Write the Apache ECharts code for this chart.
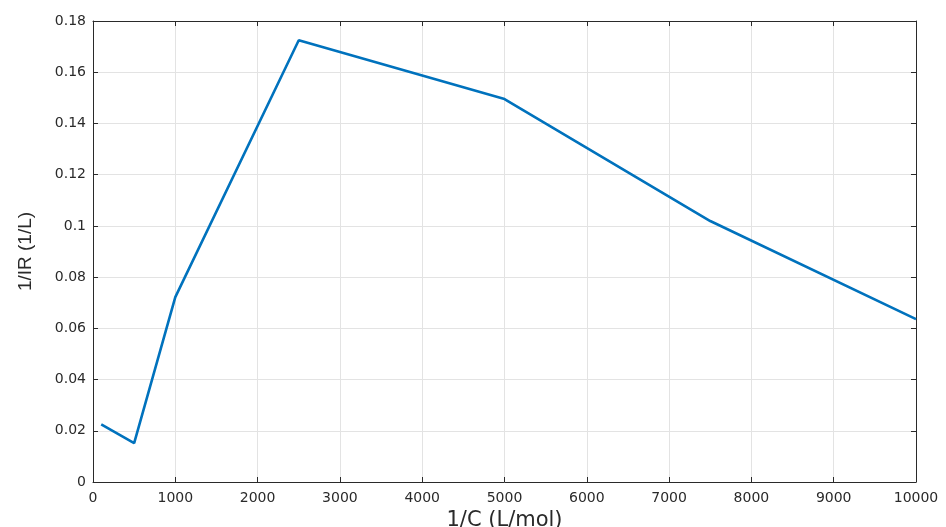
<!DOCTYPE html>
<html>
<head>
<meta charset="utf-8">
<script src="https://cdn.jsdelivr.net/npm/echarts@6/dist/echarts.min.js"></script>
<style>html,body{margin:0;padding:0;background:#fff;}#c{width:946px;height:527px;}</style>
</head>
<body>
<div id="c"></div>
<script>
const xValues = [100, 500, 1000, 2500, 5000, 7500, 10000];
const yValues = [0.0225, 0.0152, 0.0722, 0.1725, 0.1495, 0.1019, 0.0636];
const xTicks = [0, 1000, 2000, 3000, 4000, 5000, 6000, 7000, 8000, 9000, 10000];
const yTicks = [0, 0.02, 0.04, 0.06, 0.08, 0.1, 0.12, 0.14, 0.16, 0.18];
const xTitle = '1/C (L/mol)';
const yTitle = '1/IR (1/L)';

const chart = echarts.init(document.getElementById('c'));
const txt = '#2a2a2a';
const font = 'DejaVu Sans, Verdana, sans-serif';
const axisCommon = {
  axisLine: {show: true, onZero: false, lineStyle: {color: txt, width: 1}},
  axisTick: {show: true, inside: true, length: 5, lineStyle: {color: txt}},
  splitLine: {show: false}
};
chart.setOption({
  animation: false,
  backgroundColor: '#fff',
  grid: {left: 93, right: 30, top: 21, bottom: 45, containLabel: false, outerBoundsMode: 'none'},
  xAxis: [
    Object.assign({
      type: 'value', min: 0, max: 10000, interval: 1000,
      name: xTitle, nameLocation: 'middle', nameGap: 26,
      nameTextStyle: {color: txt, fontSize: 21, fontFamily: font},
      axisLabel: {color: txt, fontSize: 14, fontFamily: font, margin: 9,
        formatter: v => String(xTicks.includes(v) ? v : v)},
    }, axisCommon, {splitLine: {show: true, lineStyle: {color: '#e3e3e3', width: 1}}}),
    Object.assign({
      type: 'value', position: 'top', min: 0, max: 10000, interval: 1000,
      axisLabel: {show: false}
    }, axisCommon)
  ],
  yAxis: [
    Object.assign({
      type: 'value', min: 0, max: 0.18, interval: 0.02,
      name: yTitle, nameLocation: 'middle', nameGap: 58, nameRotate: 90,
      nameTextStyle: {color: txt, fontSize: 19, fontFamily: 'Liberation Sans, Arial, sans-serif'},
      axisLabel: {color: txt, fontSize: 14, fontFamily: font, margin: 7,
        formatter: v => String(+v.toFixed(2))},
    }, axisCommon, {splitLine: {show: true, lineStyle: {color: '#e3e3e3', width: 1}}}),
    Object.assign({
      type: 'value', position: 'right', min: 0, max: 0.18, interval: 0.02,
      axisLabel: {show: false}
    }, axisCommon)
  ],
  series: [{
    type: 'line',
    data: xValues.map((x, i) => [x, yValues[i]]),
    showSymbol: false,
    lineStyle: {color: '#0072BD', width: 2.6},
    xAxisIndex: 0, yAxisIndex: 0
  }]
});
</script>
</body>
</html>
